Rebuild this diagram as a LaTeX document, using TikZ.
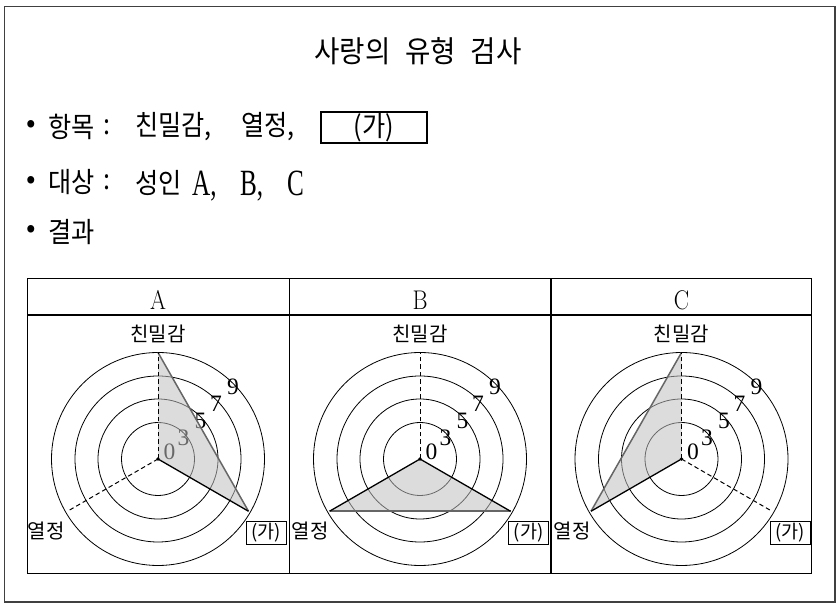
\documentclass[tikz,border=0pt]{standalone}
\usepackage{fontspec}
\usepackage{graphicx}
\newfontfamily\kr{Noto Sans CJK KR}
\newfontfamily\tms{Liberation Serif}
\usetikzlibrary{calc}
\newcommand\krw[1]{\scalebox{0.9}[1]{#1}}
\newcommand\myradargrid[1]{%
  \coordinate (#1c) at (0,0);
  \foreach \r in {36.5,60,83,106.5} \draw[gridc] (#1c) circle[radius=\r];
  \node[digit] (#1n9) at (75,72) {9};
  \node[digit] (#1n7) at (58,55) {7};
  \node[digit] (#1n5) at (42.5,38.5) {5};
  \node[digit] (#1n3) at (25.5,21.5) {3};
  \node[digit] (#1n0) at (11.5,7) {0};
  \coordinate (#1t) at (90:106.5);
  \coordinate (#1l) at (210:104.5);
  \coordinate (#1r) at (-30:104.5);
}
\begin{document}
\begin{tikzpicture}[x=1pt,y=1pt,
  gridc/.style={line width=0.8pt,black},
  digit/.style={inner sep=0pt,font=\tms\fontsize{23.5}{23.5}\selectfont},
  shade/.style={fill=black!25,fill opacity=0.55},
  edge/.style={line width=1.5pt,black!60},
  axisline/.style={line width=1.3pt,black},
  daxis/.style={line width=1pt,black,dash pattern=on 4.5pt off 3pt},
  big/.style={inner sep=0pt,anchor=west,font=\kr\fontsize{28}{32}\selectfont},
  lab/.style={inner sep=0pt,font=\kr\fontsize{20}{22}\selectfont},
  gabox/.style={draw,line width=0.9pt,inner sep=1pt,minimum width=40pt,minimum height=23pt,anchor=east,font=\kr\fontsize{18.5}{20}\selectfont},
  hdr/.style={inner sep=0pt,anchor=base,font=\fontsize{27}{27}\selectfont},
  latin/.style={inner sep=0pt,anchor=base west}]
\useasboundingbox (0,0) rectangle (837,604);
% outer frame
\draw[line width=1.6pt,black!75] (4.5,2) rectangle (835,597.5);
% title
\node[inner sep=0pt,font=\kr\fontsize{30}{34}\selectfont] (title) at (418,552.5) {\scalebox{0.92}[1]{사랑의\hspace{16pt}유형\hspace{16pt}검사}};
% line 1
\node[big,anchor=center] (b1) at (31,477) {•};
\node[big] (l1a) at (48,477) {\krw{항목}};
\node[big,anchor=center] (l1b) at (107,477) {\krw{:}};
\node[big] (l1c) at (135,477) {\krw{친밀감,}};
\node[big] (l1d) at (241,477) {\krw{열정,}};
\node[draw,line width=1.2pt,minimum width=106pt,minimum height=31pt,inner sep=0pt,font=\kr\fontsize{28}{32}\selectfont] (l1e) at (374,476.5) {\krw{(가)}};
% line 2
\node[big,anchor=center] (b2) at (31,421.5) {•};
\node[big] (l2a) at (48,421.5) {\krw{대상}};
\node[big,anchor=center] (l2b) at (107,421.5) {\krw{:}};
\node[big] (l2c) at (135,421.5) {\krw{성인}};
\node[latin] (l2d) at (192,408) {\scalebox{0.68}[1]{\tms\fontsize{37}{37}\selectfont A,}};
\node[latin] (l2e) at (240,408) {\scalebox{0.68}[1]{\tms\fontsize{37}{37}\selectfont B,}};
\node[latin] (l2f) at (287,408) {\scalebox{0.68}[1]{\tms\fontsize{37}{37}\selectfont C}};
% line 3
\node[big,anchor=center] (b3) at (31,372) {•};
\node[big] (l3a) at (48,372) {\krw{결과}};
% table
\draw[line width=1.2pt] (27.3,30.7) rectangle (811.5,325.7);
\draw[line width=1.2pt] (27.3,289) -- (811.5,289);
\draw[line width=1.2pt] (289.3,30.7) -- (289.3,325.7);
\draw[line width=1.2pt] (551,30.7) -- (551,325.7);
\node[hdr] (hA) at (158,294.7) {\scalebox{0.85}[1]{A}};
\node[hdr] (hB) at (420,294.7) {\scalebox{0.85}[1]{B}};
\node[hdr] (hC) at (681.5,294.7) {\scalebox{0.85}[1]{C}};
% panel A
\begin{scope}[shift={(158,145)}]
  \myradargrid{A}
  \fill[shade] (Ac) -- (At) -- (Ar) -- cycle;
  \draw[edge] (At) -- (Ar);
  \draw[axisline] (Ac) -- (Ar);
  \draw[daxis] (Ac) -- (At);
  \draw[daxis] (Ac) -- (Al);
  \fill (Ac) circle[radius=1.8];
\end{scope}
% panel B
\begin{scope}[shift={(420,145)}]
  \myradargrid{B}
  \fill[shade] (Bc) -- (Bl) -- (Br) -- cycle;
  \draw[edge] (Bl) -- (Br);
  \draw[axisline] (Bc) -- (Bl);
  \draw[axisline] (Bc) -- (Br);
  \draw[daxis] (Bc) -- (Bt);
  \fill (Bc) circle[radius=1.8];
\end{scope}
% panel C
\begin{scope}[shift={(681.5,145)}]
  \myradargrid{C}
  \fill[shade] (Cc) -- (Ct) -- (Cl) -- cycle;
  \draw[edge] (Ct) -- (Cl);
  \draw[axisline] (Cc) -- (Cl);
  \draw[daxis] (Cc) -- (Ct);
  \draw[daxis] (Cc) -- (Cr);
  \fill (Cc) circle[radius=1.8];
\end{scope}
% panel labels
\node[lab] (kA) at (158,270.5) {친밀감};
\node[lab] (kB) at (420,270.5) {친밀감};
\node[lab] (kC) at (681.5,270.5) {친밀감};
\node[lab,anchor=west] (yA) at (27.5,73) {열정};
\node[lab,anchor=west] (yB) at (291.5,73) {열정};
\node[lab,anchor=west] (yC) at (553.5,73) {열정};
\node[gabox] (gA) at (286.7,71) {(가)};
\node[gabox] (gB) at (549,71) {(가)};
\node[gabox] (gC) at (810.5,71) {(가)};
\end{tikzpicture}
\end{document}
